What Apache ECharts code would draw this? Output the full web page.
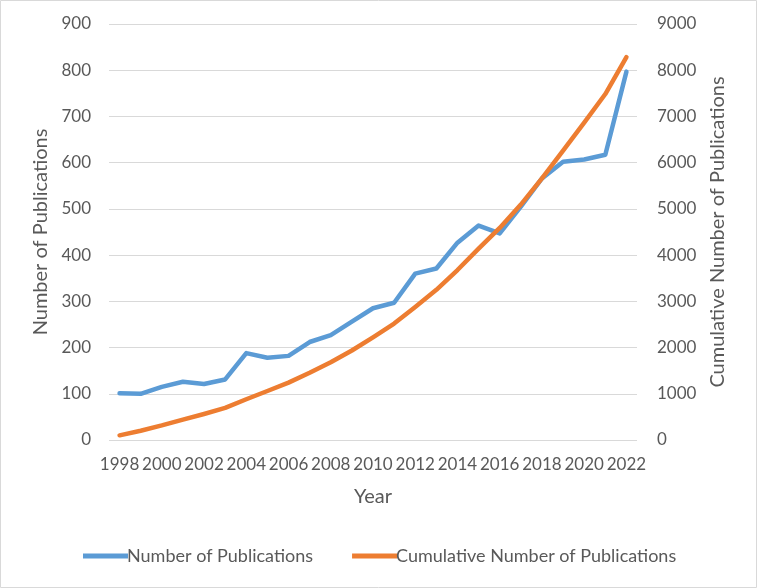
<!DOCTYPE html>
<html>
<head>
<meta charset="utf-8">
<script src="https://cdn.jsdelivr.net/npm/echarts@6/dist/echarts.min.js"></script>
<style>
html,body{margin:0;padding:0;background:#fff;}
#c{width:757px;height:588px;}
</style>
</head>
<body>
<div id="c"></div>
<script>
const years = ['1998','1999','2000','2001','2002','2003','2004','2005','2006','2007','2008','2009','2010','2011','2012','2013','2014','2015','2016','2017','2018','2019','2020','2021','2022'];
const publications = [101,100,115,126,121,131,188,178,182,212,227,256,285,297,360,371,427,464,447,505,566,602,607,617,797];
const cumulative = [101,201,316,442,563,694,882,1060,1242,1454,1681,1937,2222,2519,2879,3250,3677,4141,4588,5093,5659,6261,6868,7485,8282];
const leftTicks = {min:0, max:900, interval:100};
const rightTicks = {min:0, max:9000, interval:1000};

const FONT = 'Lato';
const TXT = '#595959';
const chart = echarts.init(document.getElementById('c'), null, {renderer:'canvas'});
chart.setOption({
  animation:false,
  textStyle:{fontFamily:FONT},
  graphic:[{type:'rect', shape:{x:0.5,y:0.5,width:756,height:587}, style:{fill:'none', stroke:'#D9D9D9', lineWidth:1}, silent:true}],
  grid:{left:109, right:120, top:24, bottom:148, containLabel:false},
  legend:{
    left:78, top:542, itemWidth:45, itemHeight:5, itemGap:39, icon:'rect',
    textStyle:{fontFamily:FONT, fontSize:18, color:TXT, padding:[0,0,0,-6]},
    data:['Number of Publications','Cumulative Number of Publications']
  },
  xAxis:{
    type:'category', data:years, boundaryGap:true,
    name:'Year', nameLocation:'middle', nameGap:47,
    nameTextStyle:{fontFamily:FONT, fontSize:20, color:TXT},
    axisLine:{show:false}, axisTick:{show:false},
    axisLabel:{interval:1, margin:16, fontFamily:FONT, fontSize:17, color:TXT}
  },
  yAxis:[{
    type:'value', min:leftTicks.min, max:leftTicks.max, interval:leftTicks.interval,
    name:'Number of Publications', nameLocation:'middle', nameGap:55,
    nameTextStyle:{fontFamily:FONT, fontSize:20, color:TXT},
    axisLine:{show:false}, axisTick:{show:false},
    axisLabel:{margin:18, fontFamily:FONT, fontSize:17, color:TXT},
    splitLine:{lineStyle:{color:'#D9D9D9', width:1.2}}
  },{
    type:'value', min:rightTicks.min, max:rightTicks.max, interval:rightTicks.interval,
    name:'Cumulative Number of Publications', nameLocation:'middle', nameGap:64,
    nameTextStyle:{fontFamily:FONT, fontSize:20, color:TXT},
    axisLine:{show:false}, axisTick:{show:false},
    axisLabel:{margin:20, fontFamily:FONT, fontSize:17, color:TXT, formatter:function(v){return String(v);}},
    splitLine:{show:false}
  }],
  series:[{
    name:'Number of Publications', type:'line', yAxisIndex:0, data:publications,
    symbol:'none', lineStyle:{color:'#5B9BD5', width:4.5, cap:'round', join:'round'}, itemStyle:{color:'#5B9BD5'}
  },{
    name:'Cumulative Number of Publications', type:'line', yAxisIndex:1, data:cumulative,
    symbol:'none', lineStyle:{color:'#ED7D31', width:4.5, cap:'round', join:'round'}, itemStyle:{color:'#ED7D31'}
  }]
});
</script>
</body>
</html>
